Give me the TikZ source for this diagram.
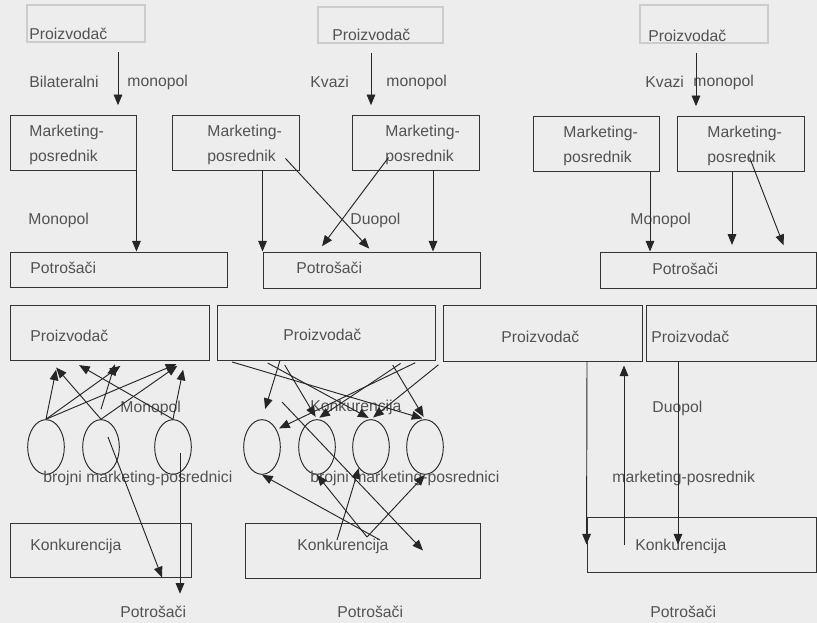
\documentclass[tikz,border=0pt]{standalone}
\usepackage{fontspec}
\setmainfont{Liberation Sans}
\usetikzlibrary{arrows.meta,fit,shapes.geometric}

\begin{document}
\begin{tikzpicture}[x=0.75pt,y=-0.75pt,line width=0.7pt,
  box/.style={draw=black!80,inner sep=0pt},
  faintbox/.style={draw=black!20,line width=1.2pt,inner sep=0pt},
  oval/.style={draw=black!85,ellipse,inner sep=0pt,minimum width=27.5pt,minimum height=41pt},
  lbl/.style={anchor=west,inner sep=0pt,text=black!68,align=left,font=\fontsize{11.8}{18.5}\selectfont},
  arr/.style={draw=black!85,-{Triangle[length=8pt,width=6.5pt]}},
  gap/.style={shorten <=4pt,shorten >=2pt}]

\fill[black!7] (0,0) rectangle (817,623);
\useasboundingbox (0,0) rectangle (817,623);

% bilateralni monopol
\node[faintbox,fit={(27,5) (145,42)}] (prA) {};
\node[box,fit={(10,115) (136,170)}] (mpA) {};
\node[box,fit={(10,252) (227,287)}] (potA) {};
\node[lbl] (tPrA) at (29,34) {Proizvodač};
\node[lbl] (tBil) at (29,82) {Bilateralni};
\node[lbl] (tMonA) at (127,82) {monopol};
\node[lbl] (tMpA) at (29,145) {Marketing-\\posrednik};
\node[lbl] (tMonB) at (28,220) {Monopol};
\node[lbl] (tPotA) at (30,268) {Potrošači};
\draw[arr,shorten <=7pt,shorten >=7pt] (prA.south -| 118,0) -- (mpA.north -| 118,0);
\draw[arr] (mpA.south east) -- (potA.north -| mpA.south east);

% kvazi monopol, duopol
\node[faintbox,fit={(318,7) (443,43)}] (prB) {};
\node[box,fit={(172,115) (299,170)}] (mpB) {};
\node[box,fit={(352,115) (479,170)}] (mpC) {};
\node[box,fit={(263,252) (480,288)}] (potB) {};
\node[lbl] (tPrB) at (332,35) {Proizvodač};
\node[lbl] (tKvB) at (310,82) {Kvazi};
\node[lbl] (tMonC) at (386,82) {monopol};
\node[lbl] (tMpB) at (207,145) {Marketing-\\posrednik};
\node[lbl] (tMpC) at (385,145) {Marketing-\\posrednik};
\node[lbl] (tDuoA) at (350,220) {Duopol};
\node[lbl] (tPotB) at (296,268) {Potrošači};
\draw[arr,shorten <=7pt,shorten >=7pt] (prB.south -| 371,0) -- (mpC.north -| 371,0);
\draw[arr] (mpB.south -| potB.north west) -- (potB.north west);
\draw[arr,shorten >=3pt] ([shift={(-14,-12)}]mpB.south east) -- (potB.north -| 372,0);
\draw[arr,shorten >=5pt] ([shift={(37,-13)}]mpC.south west) -- (potB.north -| 318,0);
\draw[arr] (mpC.south -| 433,0) -- (potB.north -| 433,0);

% kvazi monopol, monopol
\node[faintbox,fit={(640,5) (768,43)}] (prC) {};
\node[box,fit={(533,116) (659,171)}] (mpD) {};
\node[box,fit={(677,116) (804,171)}] (mpE) {};
\node[box,fit={(600,252) (816,288)}] (potC) {};
\node[lbl] (tPrC) at (648,36) {Proizvodač};
\node[lbl] (tKvC) at (645,82) {Kvazi};
\node[lbl] (tMonD) at (693,82) {monopol};
\node[lbl] (tMpD) at (563,146) {Marketing-\\posrednik};
\node[lbl] (tMpE) at (707,146) {Marketing-\\posrednik};
\node[lbl] (tMonE) at (630,220) {Monopol};
\node[lbl] (tPotC) at (652,269) {Potrošači};
\draw[arr,shorten <=7pt,shorten >=7pt] (prC.south -| 696,0) -- (mpE.north -| 696,0);
\draw[arr] (mpD.south -| 650,0) -- (potC.north -| 650,0);
\draw[arr,shorten >=5pt] (mpE.south -| 732,0) -- (potC.north -| 732,0);
\draw[arr,shorten >=5pt] ([shift={(73,-14)}]mpE.south west) -- (potC.north -| 786,0);

% monopol, brojni posrednici
\node[box,fit={(10,305) (209,360)}] (prD) {};
\node[oval] (eA) at (46,447) {};
\node[oval] (eB) at (101,447) {};
\node[oval] (eC) at (173,447) {};
\node[box,fit={(10,523) (191,577)}] (kA) {};
\node[lbl] (tPrD) at (30,336) {Proizvodač};
\node[lbl] (tMonF) at (120,408) {Monopol};
\node[lbl] (tBrA) at (43,478) {brojni marketing-posrednici};
\node[lbl] (tKA) at (30,546) {Konkurencija};
\node[lbl] (potD) at (120,612) {Potrošači};
\foreach \e/\x in {eA/58,eA/128,eA/185,eB/50,eB/185,eC/71,eC/185}
  \draw[arr,shorten >=7pt] (\e.north) -- (prD.south -| \x,0);
\draw[arr,shorten >=3pt] ([shift={(0,-10)}]eB.north) -- (prD.south -| 116,0);
\draw[arr] ([shift={(7,-10)}]eB.center) -- (kA.south -| 162,0);
\draw[arr,shorten >=9pt] ([shift={(7,6)}]eC.center) -- (potD.north -| 180,0);

% konkurencija
\node[box,fit={(217,305) (435,360)}] (prE) {};
\node[box,fit={(443,305) (642,361)}] (prF) {};
\node[box,fit={(646,305) (816,361)}] (prG) {};
\node[oval] (eD) at (262,447) {};
\node[oval] (eE) at (317,447) {};
\node[oval] (eF) at (371,447) {};
\node[oval] (eG) at (425,447) {};
\node[box,fit={(245,523) (480,578)}] (kB) {};
\node[lbl] (tPrE) at (283,335) {Proizvodač};
\node[lbl] (tPrF) at (501,337) {Proizvodač};
\node[lbl] (tPrG) at (651,337) {Proizvodač};
\node[lbl] (tKonk) at (310,407) {Konkurencija};
\node[lbl] (tBrB) at (310,478) {brojni marketing-posrednici};
\node[lbl] (tKB) at (297,546) {Konkurencija};
\node[lbl] (potE) at (337,612) {Potrošači};
\draw[arr,shorten >=8pt] (prE.south -| 280,0) -- (eD.north);
\foreach \x/\e in {227/eG,263/eF,282/eE,405/eE,390/eG}
  \draw[arr,gap] (prE.south -| \x,0) -- (\e.north);
\draw[arr,gap] (prE.south -| 420,0) -- (eD.50);
\draw[arr,gap] (prF.south west) -- (eF.north);
\draw[arr] ([shift={(20,-45)}]eD.center) -- (kB.center -| 423,0);
\coordinate (kB1) at (380,540);
\coordinate (kB2) at (367,537);
\coordinate (kB3) at (337,540);
\draw[arr] (kB1) -- (eD.south);
\draw[arr] (kB2) -- (eE.south);
\draw[arr] (kB2) -- (eG.south);
\draw[arr] (kB3) -- (eF.240);

% duopol
\node[box,fit={(587,517) (816,572)}] (kC) {};
\node[lbl] (tDuoB) at (652,408) {Duopol};
\node[lbl] (tMpF) at (612,478) {marketing-posrednik};
\node[lbl] (tKC) at (635,546) {Konkurencija};
\node[lbl] (potF) at (650,612) {Potrošači};
\draw[arr] (prF.south -| 587,0) -- (kC.west);
\draw[arr,shorten >=3pt] (kC.west -| 624,0) -- (prF.south -| 624,0);
\draw[arr] (prG.south -| 678,0) -- (kC.west -| 678,0);

\end{tikzpicture}
\end{document}
